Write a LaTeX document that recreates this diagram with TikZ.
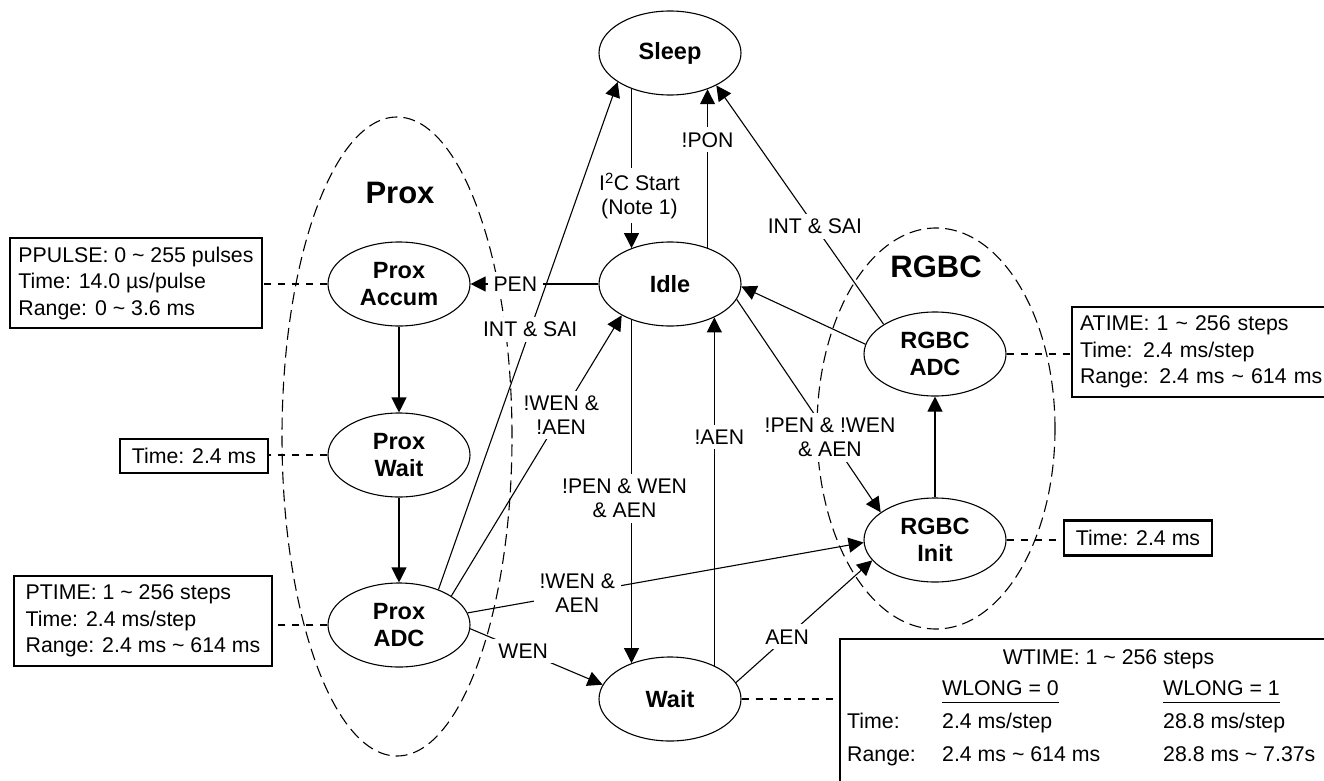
\documentclass[tikz,border=0pt]{standalone}
\usepackage{fontspec}
\setmainfont{Liberation Sans}
\usetikzlibrary{arrows.meta, shapes.geometric}

\begin{document}
\begin{tikzpicture}[x=1pt, y=-1pt,
  st/.style={ellipse, draw, line width=1.1pt, minimum width=142pt, minimum height=84pt, inner sep=0pt, align=center, font=\fontsize{23.5}{27}\selectfont\bfseries},
  grp/.style={ellipse, draw, line width=1.1pt, dash pattern=on 12pt off 6pt, inner sep=0pt},
  grplabel/.style={inner sep=0pt, font=\fontsize{31}{36}\selectfont\bfseries},
  arr/.style={line width=1.1pt, -{Triangle[length=15pt,width=15pt]}},
  lbl/.style={fill=white, inner xsep=6pt, inner ysep=5pt, align=center, font=\fontsize{21.2}{23.5}\selectfont},
  infobox/.style={draw, line width=2.2pt, inner xsep=8pt, inner ysep=4pt, align=left, font=\fontsize{21.3}{26.5}\selectfont},
  link/.style={line width=1.1pt, dash pattern=on 7pt off 7pt},
  wtxt/.style={inner sep=0pt, anchor=base west, font=\fontsize{21.3}{26.5}\selectfont}
]
\useasboundingbox (0,0) rectangle (1324,781);
\clip (0,0) rectangle (1324,781);

% group outlines
\node[grp, minimum width=230pt, minimum height=639pt] (gProx) at (397,436.5) {};
\node[grp, minimum width=238pt, minimum height=401pt] (gRGBC) at (936,428.5) {};
\node[grplabel] (tProx) at (400,193) {Prox};
\node[grplabel] (tRGBC) at (936,267) {RGBC};

% states
\node[st] (Sleep) at (670,53) {Sleep};
\node[st] (Idle) at (670,284) {Idle};
\node[st] (PAcc) at (399,284) {Prox\\Accum};
\node[st] (PWait) at (399,455) {Prox\\Wait};
\node[st] (PADC) at (399,625) {Prox\\ADC};
\node[st] (Wait) at (670,699) {Wait};
\node[st] (RADC) at (935,354) {RGBC\\ADC};
\node[st] (RInit) at (935,540) {RGBC\\Init};

% info boxes
\node[infobox, minimum width=252pt, minimum height=90pt] (bPP) at (136,283) {PPULSE: 0 \textasciitilde{} 255 pulses\\Time: 14.0 µs/pulse\\Range: 0 \textasciitilde{} 3.6 ms};
\node[infobox, minimum width=148pt, minimum height=34pt] (bPW) at (194,456) {Time: 2.4 ms};
\node[infobox, minimum width=258pt, minimum height=90pt] (bPT) at (143,621) {PTIME: 1 \textasciitilde{} 256 steps\\Time: 2.4 ms/step\\Range: 2.4 ms \textasciitilde{} 614 ms};
\node[infobox, anchor=west, minimum width=270pt, minimum height=90pt, text width=254pt] (bAT) at (1071,352) {ATIME: 1 \textasciitilde{} 256 steps\\Time: 2.4 ms/step\\Range: 2.4 ms \textasciitilde{} 614 ms};
\node[infobox, minimum width=148pt, minimum height=35pt] (bRI) at (1138,538) {Time: 2.4 ms};
\node[draw, line width=2.2pt, anchor=north west, minimum width=520pt, minimum height=180pt, inner sep=0pt] (bW) at (839,638) {};

% WTIME box contents
\node[wtxt, anchor=base] (wt) at (1108.5,664) {WTIME: 1 \textasciitilde{} 256 steps};
\node[wtxt] (wl0) at (942,695) {WLONG = 0};
\node[wtxt] (wl1) at (1163,695) {WLONG = 1};
\draw[line width=1pt] ([yshift=-7.5pt]wl0.base west) -- ([yshift=-7.5pt]wl0.base east);
\draw[line width=1pt] ([yshift=-7.5pt]wl1.base west) -- ([yshift=-7.5pt]wl1.base east);
\node[wtxt] (wtl) at (847,728) {Time:};
\node[wtxt] (wt0) at (942,728) {2.4 ms/step};
\node[wtxt] (wt1) at (1163,728) {28.8 ms/step};
\node[wtxt] (wrl) at (847,761) {Range:};
\node[wtxt] (wr0) at (942,761) {2.4 ms \textasciitilde{} 614 ms};
\node[wtxt] (wr1) at (1163,761) {28.8 ms \textasciitilde{} 7.37s};

% dashed links
\draw[link] (PAcc.west) -- (PAcc.west -| bPP.east);
\draw[link] (PWait.west) -- (PWait.west -| bPW.east);
\draw[link] (PADC.west) -- (PADC.west -| bPT.east);
\draw[link] (RADC.east) -- (RADC.east -| bAT.west);
\draw[link] (RInit.east) -- (RInit.east -| bRI.west);
\draw[link] (Wait.east) -- (Wait.east -| bW.west);

% transitions
\draw[arr] (Sleep.223) -- node[lbl, pos=0.67, xshift=8pt] {I\textsuperscript{2}C Start\\(Note 1)} (Idle.137);
\draw[arr] (Idle.44) -- node[lbl, pos=0.68] {!PON} (Sleep.-44);
\draw[arr] (Idle.west) -- node[lbl, pos=0.65] {PEN} (PAcc.east);
\draw[arr] (PAcc) -- (PWait);
\draw[arr] (PWait) -- (PADC);
\draw[arr] (PADC.42) -- node[lbl, pos=0.512] {INT \& SAI} (Sleep.209);
\draw[arr] (PADC.29) -- node[lbl, pos=0.645] {!WEN \&\\!AEN} (Idle.213);
\draw[arr] (Idle.223) -- node[lbl, pos=0.52, xshift=-7pt] {!PEN \& WEN\\\& AEN} (Wait.137);
\draw[arr] (Wait.37) -- node[lbl, pos=0.656, xshift=5pt] {!AEN} (Idle.-37);
\draw[arr] (Idle.-13) -- node[lbl, pos=0.648] {!PEN \& !WEN\\\& AEN} (RInit.153);
\draw[arr] (RADC.172) -- (Idle.-2);
\draw[arr] (RADC.150) -- node[lbl, pos=0.411] {INT \& SAI} (Sleep.-35);
\draw[arr] (RInit) -- (RADC);
\draw[arr] (PADC.10) -- node[lbl, pos=0.277] {!WEN \&\\AEN} (RInit.182);
\draw[arr] (PADC.-3) -- node[lbl, pos=0.4] {WEN} (Wait.168);
\draw[arr] (Wait.14) -- node[lbl, pos=0.375] {AEN} (RInit.198);
\end{tikzpicture}
\end{document}
